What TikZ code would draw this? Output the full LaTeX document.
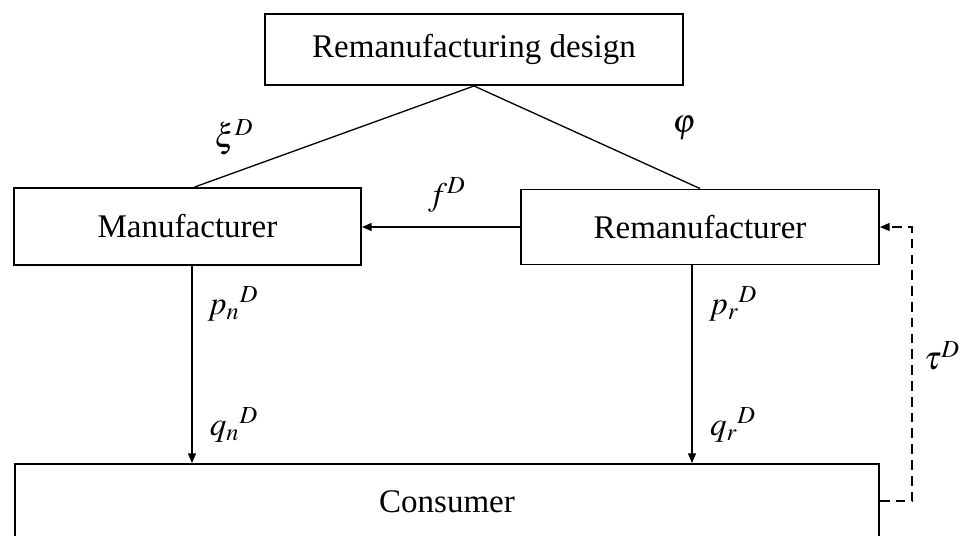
\documentclass[tikz,border=0pt]{standalone}
\usepackage{mathptmx}
\usepackage{fontspec}
\setmainfont{Liberation Serif}
\usepackage{tikz}
\usetikzlibrary{arrows.meta, calc}

\begin{document}
\begin{tikzpicture}[x=0.02cm, y=-0.02cm, every node/.style={font=\fontsize{18.8}{22}\selectfont},
    blk/.style={draw, line width=1.1pt, inner sep=0pt},
    lnk/.style={line width=0.75pt},
    >={Triangle[length=5.5pt, width=4.5pt]}]
    \useasboundingbox (0,0) rectangle (963,535);
    \clip (0,0) rectangle (963,535);

    % boxes
    \node[blk, minimum width=8.36cm, minimum height=1.42cm] (design) at (474,49.5) {Remanufacturing design};
    \node[blk, minimum width=6.94cm, minimum height=1.54cm] (man) at (187.5,226.5) {Manufacturer};
    \node[blk, minimum width=7.16cm, minimum height=1.5cm] (reman) at (700,227) {Remanufacturer};
    \node[blk, minimum width=17.28cm, minimum height=1.52cm] (con) at (447,502) {Consumer};

    % design links
    \draw[lnk] (design.south) -- ($(man.north)+(7,0)$);
    \draw[lnk] (design.south) -- (reman.north);
    \node (xi) at (234,137) {$\xi^D$};
    \node (phi) at (684,128) {$\varphi$};

    % transfer price
    \draw[lnk, ->] (reman.west) -- (reman.west -| man.east);
    \node (f) at (447,195) {$f^D$};

    % prices and quantities
    \coordinate (mn) at ($(man.south)+(4.5,0)$);
    \coordinate (rm) at ($(reman.south)+(-8,0)$);
    \draw[lnk, ->] (mn) -- (mn |- con.north);
    \draw[lnk, ->] (rm) -- (rm |- con.north);
    \node (pn) at (233,304) {${p_n}^D$};
    \node (qn) at (234,425) {${q_n}^D$};
    \node (pr) at (733,304) {${p_r}^D$};
    \node (qr) at (733,425) {${q_r}^D$};

    % subsidy feedback
    \draw[lnk, ->, dash pattern=on 5.5pt off 3.5pt] ($(con.east)+(0,-1)$) -- ++(32,0) |- (reman.east);
    \node (tau) at (942,356) {$\tau^D$};
\end{tikzpicture}
\end{document}
